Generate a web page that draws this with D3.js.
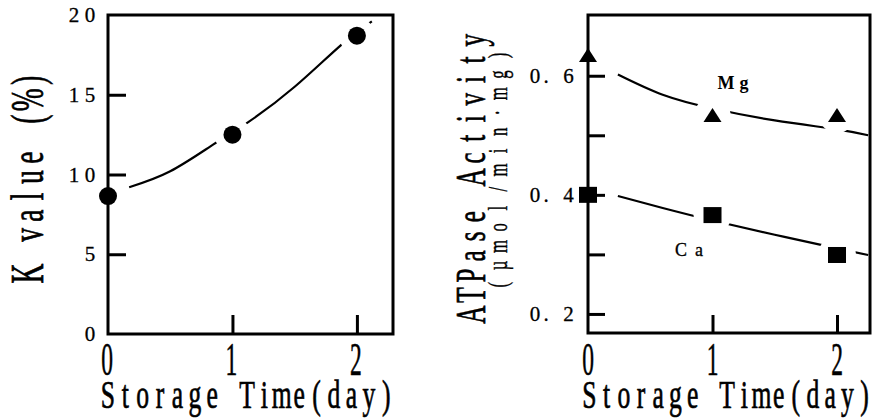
<!DOCTYPE html>
<html>
<head>
<meta charset="utf-8">
<script src="https://cdn.jsdelivr.net/npm/d3@7"></script>
<style>
  body { margin: 0; background: #fff; }
  text { font-family: "Liberation Serif", "DejaVu Serif", serif; fill: #000; }
</style>
</head>
<body>
<div id="chart"></div>
<script>
// measured values
const days = [0, 1, 2];
const kValue = [8.65, 12.5, 18.7];
const mgActivity = [0.635, 0.534, 0.534];
const caActivity = [0.400, 0.366, 0.299];

// hand-drawn fit lines
const kFitDays = [0.17, 0.5, 0.85, 1.13, 1.5, 1.87, 2.12];
const kFitValues = [9.2, 10.2, 11.9, 13.3, 15.5, 18.1, 19.6];
const mgFitDays = [0.24, 0.6, 1.0, 1.5, 2.0, 2.25];
const mgFitValues = [0.602, 0.568, 0.545, 0.525, 0.51, 0.50];
const caFitDays = [0.24, 0.6, 1.0, 1.5, 2.0, 2.25];
const caFitValues = [0.398, 0.378, 0.357, 0.333, 0.310, 0.299];

const kTicks = [5, 10, 15];
const kTickLabels = ["0", "5", "10", "15", "20"];
const kTickLabelValues = [0, 5, 10, 15, 20];
const atpTicks = [0.2, 0.3, 0.4, 0.5, 0.6];
const atpTickLabels = ["0. 2", "0. 4", "0. 6"];
const atpTickLabelValues = [0.2, 0.4, 0.6];
const dayTicks = [1, 2];
const dayLabels = ["0", "1", "2"];

const width = 875;
const height = 420;

const svg = d3.select("#chart")
    .append("svg")
    .attr("width", width)
    .attr("height", height);

// text with one character per cell, like the old typewriter-ish labels
function cellText(parent, str, x, y, step, size, o = {}) {
    const sx = o.sx || 1, sy = o.sy || 1;
    const chars = Array.from(str);
    const n = chars.length;
    const xs = chars.map((c, i) => ((i - (n - 1) / 2) * step) / sx);
    return parent.append("text")
        .attr("transform", `translate(${x},${y}) rotate(${o.rotate || 0}) scale(${sx},${sy})`)
        .attr("x", xs.join(" "))
        .attr("y", 0)
        .attr("text-anchor", "middle")
        .attr("font-size", size)
        .attr("font-weight", o.weight || "normal")
        .attr("stroke", o.bold ? "#000" : "none")
        .attr("stroke-width", o.bold || 0)
        .text(str);
}

function fitPath(xs, ys, x, y) {
    return d3.line()
        .x((d, i) => x(xs[i]))
        .y((d, i) => y(ys[i]))
        .curve(d3.curveNatural)(xs);
}

function gapMask(id, cxs, cys, r) {
    const m = svg.append("defs").append("mask").attr("id", id);
    m.append("rect").attr("width", width).attr("height", height).attr("fill", "#fff");
    cxs.forEach((cx, i) => {
        m.append("circle").attr("cx", cx).attr("cy", cys[i]).attr("r", r).attr("fill", "#000");
    });
}

// ---------- left panel: K value ----------
const xL = d3.scaleLinear().domain([0, 2.29]).range([108, 393]);
const yL = d3.scaleLinear().domain([0, 20]).range([334, 15]);
const left = svg.append("g");

left.append("g")
    .attr("transform", `translate(${xL(0)},0)`)
    .call(d3.axisLeft(yL).tickValues(kTicks).tickSize(-18).tickFormat(""))
    .call(g => g.select(".domain").remove())
    .call(g => g.selectAll("line").attr("stroke", "#000").attr("stroke-width", 3));

left.append("g")
    .attr("transform", `translate(0,${yL(0)})`)
    .call(d3.axisBottom(xL).tickValues(dayTicks).tickSize(-19).tickFormat(""))
    .call(g => g.select(".domain").remove())
    .call(g => g.selectAll("line").attr("stroke", "#000").attr("stroke-width", 3));

left.append("rect")
    .attr("x", xL(0)).attr("y", yL(20))
    .attr("width", xL(2.29) - xL(0)).attr("height", yL(0) - yL(20))
    .attr("fill", "none").attr("stroke", "#000").attr("stroke-width", 3);

gapMask("kgap", [xL(1), xL(2)], [yL(kValue[1]), yL(kValue[2])], 18);
left.append("path")
    .attr("d", fitPath(kFitDays, kFitValues, xL, yL))
    .attr("fill", "none").attr("stroke", "#000").attr("stroke-width", 2.2)
    .attr("mask", "url(#kgap)");

left.selectAll("circle.pt")
    .data(days)
    .enter().append("circle")
    .attr("class", "pt")
    .attr("cx", d => xL(d))
    .attr("cy", (d, i) => yL(kValue[i]))
    .attr("r", 9)
    .attr("fill", "#000");

kTickLabels.forEach((t, i) => {
    const n = t.length;
    cellText(left, t, 90 - (n - 1) * 16 / 2, yL(kTickLabelValues[i]) + 7, 16, 21, { bold: 0.3 });
});
dayLabels.forEach((t, i) => {
    cellText(left, t, xL(i) - 1, 375, 0, 47, { sx: 0.5, bold: 0.6 });
});
cellText(left, "Storage Time(day)", 247, 408, 17.4, 40, { sx: 0.64, bold: 0.7 });
cellText(left, "K value (%)", 43, 177, 19.3, 46, { rotate: -90, sx: 0.6, bold: 0.7 });

// ---------- right panel: ATPase ----------
const xR = d3.scaleLinear().domain([0, 2.265]).range([588, 870]);
const yR = d3.scaleLinear().domain([0.168, 0.702]).range([333, 15]);
const right = svg.append("g");

right.append("g")
    .attr("transform", `translate(${xR(0)},0)`)
    .call(d3.axisLeft(yR).tickValues(atpTicks).tickSize(-17).tickFormat(""))
    .call(g => g.select(".domain").remove())
    .call(g => g.selectAll("line").attr("stroke", "#000").attr("stroke-width", 3));

right.append("g")
    .attr("transform", `translate(0,${yR(0.168)})`)
    .call(d3.axisBottom(xR).tickValues(dayTicks).tickSize(-18).tickFormat(""))
    .call(g => g.select(".domain").remove())
    .call(g => g.selectAll("line").attr("stroke", "#000").attr("stroke-width", 3));

right.append("rect")
    .attr("x", xR(0)).attr("y", yR(0.702))
    .attr("width", xR(2.265) - xR(0)).attr("height", yR(0.168) - yR(0.702))
    .attr("fill", "none").attr("stroke", "#000").attr("stroke-width", 3);

gapMask("mggap", [xR(1), xR(2)], [yR(mgActivity[1]), yR(mgActivity[2])], 18);
gapMask("cagap", [xR(1), xR(2)], [yR(caActivity[1]), yR(caActivity[2])], 19);

right.append("path")
    .attr("d", fitPath(mgFitDays, mgFitValues, xR, yR))
    .attr("fill", "none").attr("stroke", "#000").attr("stroke-width", 2.2)
    .attr("mask", "url(#mggap)");
right.append("path")
    .attr("d", fitPath(caFitDays, caFitValues, xR, yR))
    .attr("fill", "none").attr("stroke", "#000").attr("stroke-width", 2.2)
    .attr("mask", "url(#cagap)");

// triangles, box centred on the value
right.selectAll("path.tri")
    .data(days)
    .enter().append("path")
    .attr("class", "tri")
    .attr("d", (d, i) => {
        const cx = xR(d), cy = yR(mgActivity[i]);
        return `M${cx},${cy - 7}L${cx + 9},${cy + 7}L${cx - 9},${cy + 7}Z`;
    })
    .attr("fill", "#000");

right.selectAll("rect.sq")
    .data(days)
    .enter().append("rect")
    .attr("class", "sq")
    .attr("x", d => xR(d) - 9)
    .attr("y", (d, i) => yR(caActivity[i]) - 8)
    .attr("width", 18)
    .attr("height", 16)
    .attr("fill", "#000");

atpTickLabels.forEach((t, i) => {
    cellText(right, t, 551.7, yR(atpTickLabelValues[i]) + 7, 11.2, 21, { bold: 0.3 });
});
dayLabels.forEach((t, i) => {
    cellText(right, t, xR(i), 375, 0, 47, { sx: 0.5, bold: 0.6 });
});
cellText(right, "Storage Time(day)", 727, 408, 17.2, 40, { sx: 0.64, bold: 0.7 });
cellText(right, "ATPase Activity", 485, 177.5, 19.6, 42, { rotate: -90, sx: 0.6, bold: 0.7 });
cellText(right, "(µmol/min·mg)", 507, 170, 19.1, 28, { rotate: -90, sx: 0.6, bold: 0.4 });

cellText(right, "Mg", 735, 89, 18, 18, { weight: "bold" });
cellText(right, "Ca", 690, 256, 18, 18, { bold: 0.3 });
</script>
</body>
</html>
